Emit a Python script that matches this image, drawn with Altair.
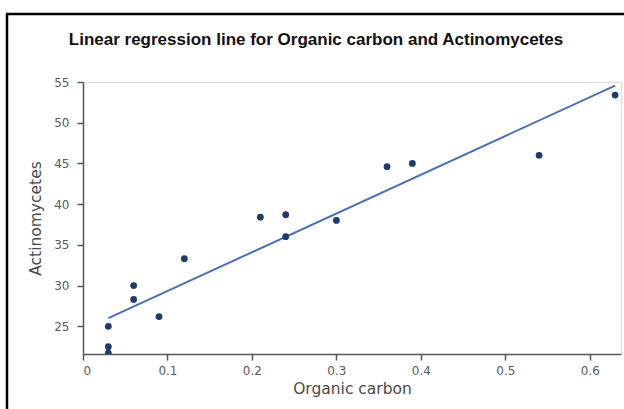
import altair as alt
import pandas as pd

organic_carbon = [0.03, 0.03, 0.03, 0.06, 0.06, 0.09, 0.12, 0.21, 0.24, 0.24, 0.30, 0.36, 0.39, 0.54, 0.63]
actinomycetes = [25.0, 22.5, 21.7, 30.0, 28.3, 26.2, 33.3, 38.4, 38.7, 36.0, 38.0, 44.6, 45.0, 46.0, 53.4]
x_ticks = [0, 0.1, 0.2, 0.3, 0.4, 0.5, 0.6]
y_ticks = [25, 30, 35, 40, 45, 50, 55]
title_text = "Linear regression line for Organic carbon and Actinomycetes"

df = pd.DataFrame({"Organic carbon": organic_carbon, "Actinomycetes": actinomycetes})

xs = alt.Scale(domain=[0, 0.637], nice=False, zero=False)
ys = alt.Scale(domain=[21.6, 55], nice=False, zero=False)

axis_common = dict(
    domainColor="#555555", domainWidth=1.5, tickColor="#555555", tickWidth=1.5, tickSize=6,
    labelFont="DejaVu Sans", labelFontSize=12, labelColor="#5a5a5a", grid=False,
    titleFont="DejaVu Sans", titleFontSize=15.5, titleFontWeight="normal", titleColor="#4a4a4a",
)

x_enc = alt.X("Organic carbon:Q", scale=xs,
              axis=alt.Axis(values=x_ticks, format="~g", titlePadding=5, labelPadding=5, **axis_common))
y_enc = alt.Y("Actinomycetes:Q", scale=ys,
              axis=alt.Axis(values=y_ticks, format="d", titlePadding=10, labelPadding=8, **axis_common))

base = alt.Chart(df)

points = base.mark_circle(size=46, color="#1f3b6e", opacity=1, clip=True).encode(x=x_enc, y=y_enc)

line = base.transform_regression("Organic carbon", "Actinomycetes", extent=[0.03, 0.63]).mark_line(
    color="#4a70b8", strokeWidth=2
).encode(x=x_enc, y=y_enc)

one = pd.DataFrame({"a": [0]})

title = alt.Chart(one).mark_text(
    text=title_text, font="Liberation Sans", fontSize=17, fontWeight="bold", color="#111111",
    align="center", baseline="alphabetic",
).encode(x=alt.value(233), y=alt.value(-37))

frame_left = alt.Chart(one).mark_rule(color="black", strokeWidth=2.5, clip=False).encode(
    x=alt.value(-76), y=alt.value(-68), y2=alt.value(330)
)
frame_top = alt.Chart(one).mark_rule(color="black", strokeWidth=2.5, clip=False).encode(
    x=alt.value(-77), x2=alt.value(545), y=alt.value(-68)
)

chart = alt.layer(line, points, title, frame_left, frame_top).properties(
    width=538, height=272,
    autosize=alt.AutoSizeParams(type="none"),
    padding={"left": 83, "top": 82, "right": 3, "bottom": 55},
).configure_view(stroke=None).configure(background="white")

chart.save("out.html", embed_options={"renderer": "svg", "actions": False})
